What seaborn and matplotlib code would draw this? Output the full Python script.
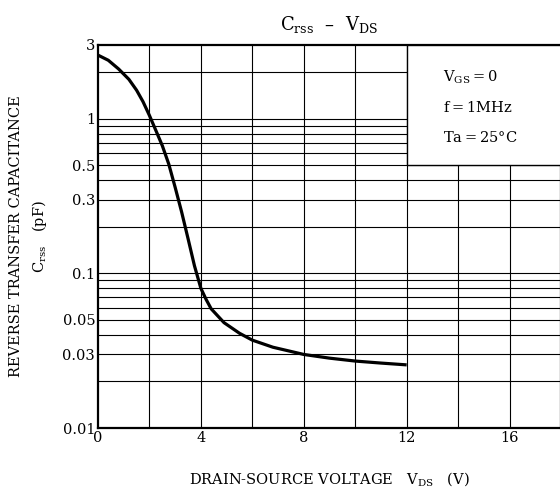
import numpy as np
import pandas as pd
import matplotlib
matplotlib.use("Agg")
import matplotlib.pyplot as plt
import matplotlib.patches as mpatches
from matplotlib.ticker import FixedLocator, NullFormatter
import seaborn as sns

# ---- data ----
vds = [0, 0.4, 0.8, 1.2, 1.5, 1.75, 2.0, 2.25, 2.5, 2.75, 3.0, 3.25, 3.5, 3.75, 4.0,
       4.2, 4.4, 4.9, 5.5, 6.0, 6.8, 8.0, 9.0, 10.0, 11.0, 12.0]
crss = [2.58, 2.39, 2.1, 1.8, 1.53, 1.29, 1.05, 0.84, 0.67, 0.51, 0.36, 0.25, 0.168, 0.112,
        0.080, 0.068, 0.059, 0.048, 0.041, 0.037, 0.0333, 0.0299, 0.0283, 0.0271,
        0.0263, 0.0256]
x_ticks = [0, 4, 8, 12, 16]
y_ticks = [0.01, 0.03, 0.05, 0.1, 0.3, 0.5, 1, 3]
y_ticklabels = ["0.01", "0.03", "0.05", "0.1", "0.3", "0.5", "1", "3"]
cond_lines = [r"$\mathrm{V_{GS}}$$=$0", "f$=$1MHz", "Ta$=$25°C"]

sns.set_style("white")
plt.rcParams["font.family"] = ["DejaVu Serif"]
plt.rcParams["mathtext.fontset"] = "dejavuserif"
plt.rcParams["text.color"] = "black"
plt.rcParams["axes.labelcolor"] = "black"
plt.rcParams["xtick.color"] = "black"
plt.rcParams["ytick.color"] = "black"

fig = plt.figure(figsize=(5.6, 4.92), dpi=100)
ax = fig.add_axes([98 / 560, 1 - 428 / 492, (561 - 98) / 560, (428 - 45) / 492])

df = pd.DataFrame({"VDS": vds, "Crss": crss})
sns.lineplot(data=df, x="VDS", y="Crss", ax=ax, color="black", linewidth=2.3, zorder=5,
             solid_joinstyle="round", solid_capstyle="butt")

ax.set_yscale("log")
ax.set_xlim(0, 18)
ax.set_ylim(0.01, 3)

# grid
for xv in np.arange(2, 18, 2):
    ax.axvline(xv, color="black", linewidth=0.8, zorder=1)
grid_y = [m * d for d in (0.01, 0.1, 1) for m in range(1, 10)]
for yv in grid_y:
    if 0.01 < yv < 3:
        ax.axhline(yv, color="black", linewidth=0.8, zorder=1)

# condition box
rect = mpatches.Rectangle((12, 0.5), 6, 2.5, facecolor="white", edgecolor="black",
                          linewidth=1.0, zorder=3)
ax.add_patch(rect)
for i, t in enumerate(cond_lines):
    ax.text(0.745, 0.915 - i * 0.078, t, transform=ax.transAxes, fontsize=10.5,
            ha="left", va="center", zorder=6)

ax.xaxis.set_major_locator(FixedLocator(x_ticks))
ax.yaxis.set_major_locator(FixedLocator(y_ticks))
ax.yaxis.set_minor_formatter(NullFormatter())
ax.set_yticklabels(y_ticklabels)
ax.tick_params(axis="both", which="both", length=0, labelsize=10.5, pad=2)

for s in ax.spines.values():
    s.set_color("black")
    s.set_linewidth(1.6)

ax.set_xlabel(r"DRAIN-SOURCE VOLTAGE   $\mathrm{V_{DS}}$   (V)", fontsize=10.5, labelpad=18)
ax.set_ylabel("REVERSE TRANSFER CAPACITANCE\n" + r"$\mathrm{C_{rss}}$   (pF)", fontsize=10.5,
              labelpad=10, linespacing=1.5)
ax.set_title(r"$\mathrm{C_{rss}}$  –  $\mathrm{V_{DS}}$", fontsize=13, pad=11)

fig.savefig("out.png", dpi=100)
